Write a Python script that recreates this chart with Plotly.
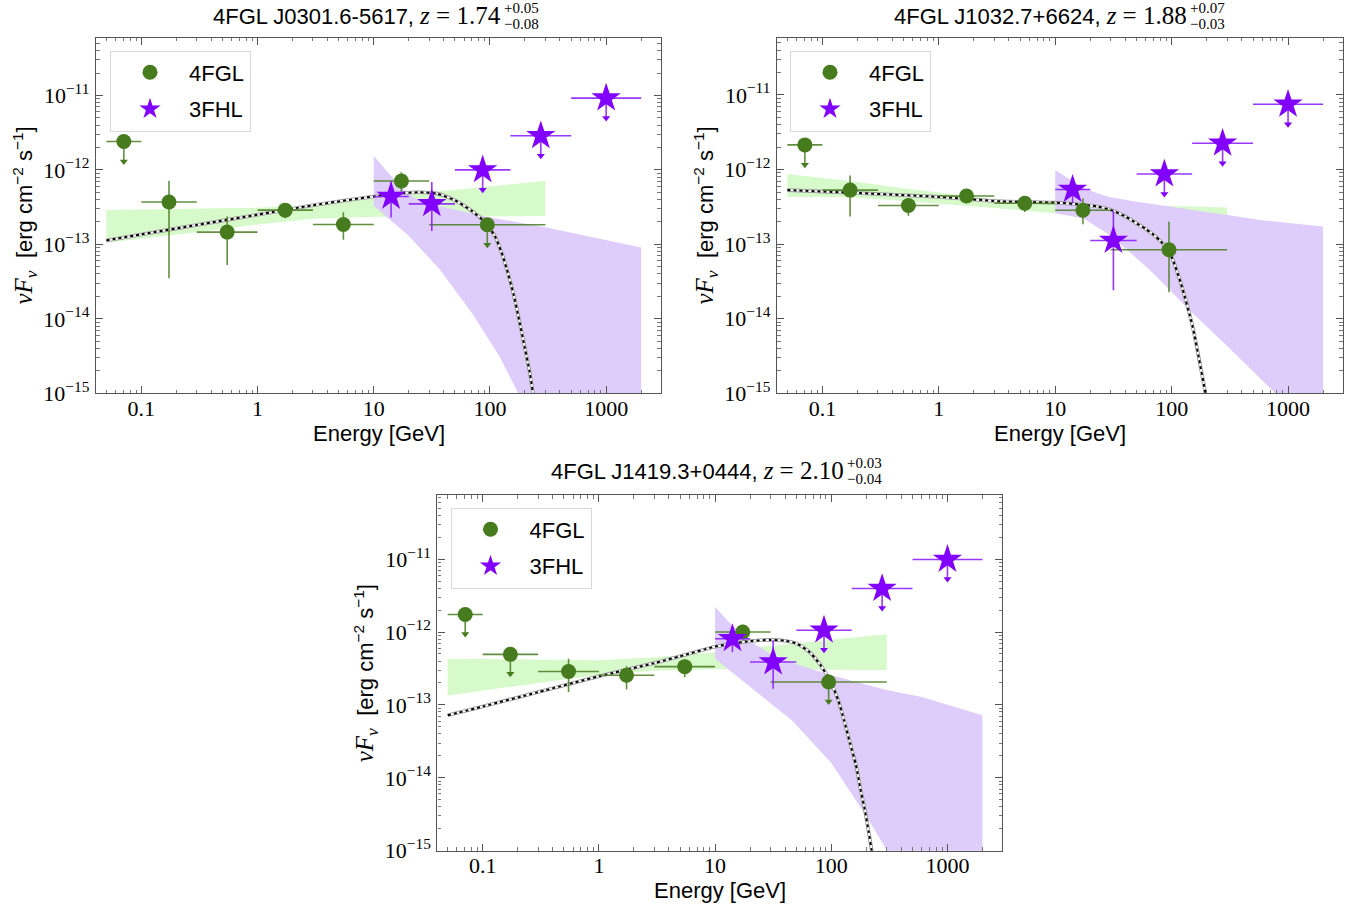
import plotly.graph_objects as go

W, H = 1358, 910

# ---------------- shared energy bins (GeV) ----------------
FGL_E = [0.0707, 0.173, 0.548, 1.73, 5.48, 17.3, 94.9]
FGL_ELO = [0.05, 0.1, 0.3, 1.0, 3.0, 10.0, 30.0]
FGL_EHI = [0.1, 0.3, 1.0, 3.0, 10.0, 30.0, 300.0]
FHL_E = [14.1, 31.6, 86.6, 274.0, 1000.0]
FHL_ELO = [10.0, 20.0, 50.0, 150.0, 500.0]
FHL_EHI = [20.0, 50.0, 150.0, 500.0, 2000.0]
UL_FRAC = 0.46  # length of upper-limit arrows (fraction of value)

X_TICKS = [0.1, 1, 10, 100, 1000]
X_TICKTEXT = ["0.1", "1", "10", "100", "1000"]
Y_TICKS = [1e-15, 1e-14, 1e-13, 1e-12, 1e-11]
Y_TICKTEXT = ["10<sup>−15</sup>", "10<sup>−14</sup>", "10<sup>−13</sup>", "10<sup>−12</sup>", "10<sup>−11</sup>"]

# ---------------- panel 1: 4FGL J0301.6-5617 ----------------
P1_FGL_F = [2.4e-12, 3.7e-13, 1.46e-13, 2.88e-13, 1.85e-13, 7.1e-13, 1.83e-13]
P1_FGL_HI = [2.4e-12, 7.1e-13, 2.37e-13, 3.57e-13, 2.7e-13, 9.3e-13, 1.83e-13]
P1_FGL_LO = [2.4e-12, 3.5e-14, 5.3e-14, 2.25e-13, 1.15e-13, 5.1e-13, 1.83e-13]
P1_FGL_UL = [1, 0, 0, 0, 0, 0, 1]
P1_FHL_F = [4.4e-13, 3.5e-13, 1.0e-12, 2.87e-12, 9.2e-12]
P1_FHL_HI = [7.0e-13, 6.9e-13, 1.0e-12, 2.87e-12, 9.2e-12]
P1_FHL_LO = [2.3e-13, 1.51e-13, 1.0e-12, 2.87e-12, 9.2e-12]
P1_FHL_UL = [0, 0, 1, 1, 1]
P1_GB_E = [0.05, 0.3, 1, 3, 10, 30, 100, 300]
P1_GB_HI = [2.9e-13, 3.0e-13, 3.1e-13, 3.35e-13, 4.2e-13, 5.0e-13, 6.0e-13, 7.1e-13]
P1_GB_LO = [1.05e-13, 1.45e-13, 1.85e-13, 2.2e-13, 2.35e-13, 2.4e-13, 2.4e-13, 2.4e-13]
P1_PB_EHI = [10, 13, 17, 22, 30, 50, 100, 300, 2000]
P1_PB_HI = [1.55e-12, 9.5e-13, 6.0e-13, 4.3e-13, 3.5e-13, 2.9e-13, 2.3e-13, 1.7e-13, 9.1e-14]
P1_PB_ELO = [10, 20, 37, 70, 120, 175, 300, 2000]
P1_PB_LO = [3.3e-13, 1.3e-13, 4.6e-14, 1.2e-14, 3.2e-15, 1e-15, 2e-16, 1e-19]
P1_CV_E = [0.05, 0.1, 0.3, 1, 3, 10, 18, 25, 35, 50, 70, 90, 110, 125, 140, 160, 180, 200, 220, 240]
P1_CV_F = [1.13e-13, 1.36e-13, 1.82e-13, 2.5e-13, 3.35e-13, 4.4e-13, 4.9e-13, 5.0e-13, 4.8e-13, 3.9e-13,
           2.8e-13, 2.0e-13, 1.3e-13, 8e-14, 4.6e-14, 2.1e-14, 9e-15, 4e-15, 1.9e-15, 8e-16]

# ---------------- panel 2: 4FGL J1032.7+6624 ----------------
P2_FGL_F = [2.14e-12, 5.3e-13, 3.3e-13, 4.43e-13, 3.53e-13, 2.85e-13, 8.4e-14]
P2_FGL_HI = [2.14e-12, 8.3e-13, 3.9e-13, 5.06e-13, 4.3e-13, 4.1e-13, 2.0e-13]
P2_FGL_LO = [2.14e-12, 2.35e-13, 2.4e-13, 4.0e-13, 2.7e-13, 1.85e-13, 2.26e-14]
P2_FGL_UL = [1, 0, 0, 0, 0, 0, 0]
P2_FHL_F = [5.4e-13, 1.12e-13, 8.7e-13, 2.25e-12, 7.5e-12]
P2_FHL_HI = [7.8e-13, 2.8e-13, 8.7e-13, 2.25e-12, 7.5e-12]
P2_FHL_LO = [3.5e-13, 2.4e-14, 8.7e-13, 2.25e-12, 7.5e-12]
P2_FHL_UL = [0, 0, 1, 1, 1]
P2_GB_E = [0.05, 0.17, 0.5, 1, 3, 10, 30, 100, 300]
P2_GB_HI = [8.7e-13, 7.0e-13, 5.6e-13, 4.9e-13, 4.0e-13, 3.6e-13, 3.4e-13, 3.25e-13, 3.1e-13]
P2_GB_LO = [4.3e-13, 4.25e-13, 3.8e-13, 3.5e-13, 3.05e-13, 2.6e-13, 2.2e-13, 1.8e-13, 1.45e-13]
P2_PB_EHI = [10, 13, 17, 23, 30, 50, 91, 300, 580, 2000]
P2_PB_HI = [9.9e-13, 7.5e-13, 5.8e-13, 4.8e-13, 4.25e-13, 3.7e-13, 3.2e-13, 2.45e-13, 2.1e-13, 1.72e-13]
P2_PB_ELO = [10, 17.5, 30, 65, 150, 300, 780, 2000]
P2_PB_LO = [2.6e-13, 2.2e-13, 1.3e-13, 4.5e-14, 1.2e-14, 4.3e-15, 1e-15, 1e-16]
P2_CV_E = [0.05, 0.17, 1, 3.4, 10, 16, 23, 30, 40, 50, 60, 70, 80, 91, 101, 120, 151, 175, 195, 215]
P2_CV_F = [5.3e-13, 4.9e-13, 4.3e-13, 3.75e-13, 3.6e-13, 3.42e-13, 3.2e-13, 2.88e-13, 2.35e-13, 1.9e-13,
           1.6e-13, 1.33e-13, 1.1e-13, 8.8e-14, 6.5e-14, 3.0e-14, 8e-15, 2.5e-15, 1e-15, 3e-16]

# ---------------- panel 3: 4FGL J1419.3+0444 ----------------
P3_FGL_F = [1.74e-12, 4.94e-13, 2.88e-13, 2.55e-13, 3.35e-13, 1.0e-12, 2.06e-13]
P3_FGL_HI = [1.74e-12, 4.94e-13, 4.3e-13, 3.4e-13, 4.2e-13, 1.26e-12, 2.06e-13]
P3_FGL_LO = [1.74e-12, 4.94e-13, 1.5e-13, 1.63e-13, 2.4e-13, 7.95e-13, 2.06e-13]
P3_FGL_UL = [1, 1, 0, 0, 0, 0, 1]
P3_FHL_F = [8.1e-13, 3.88e-13, 1.06e-12, 3.95e-12, 9.9e-12]
P3_FHL_HI = [1.17e-12, 7.7e-13, 1.06e-12, 3.95e-12, 9.9e-12]
P3_FHL_LO = [5.3e-13, 1.67e-13, 1.06e-12, 3.95e-12, 9.9e-12]
P3_FHL_UL = [0, 0, 1, 1, 1]
P3_GB_E = [0.05, 0.3, 1, 3, 10, 30, 100, 300]
P3_GB_HI = [4.3e-13, 4.2e-13, 4.1e-13, 4.5e-13, 5.3e-13, 6.5e-13, 7.9e-13, 9.3e-13]
P3_GB_LO = [1.35e-13, 2.0e-13, 2.6e-13, 2.95e-13, 3.1e-13, 3.1e-13, 3.05e-13, 2.98e-13]
P3_PB_EHI = [10, 13, 17, 22, 30, 50, 100, 300, 600, 2000]
P3_PB_HI = [2.2e-12, 1.4e-12, 9.5e-13, 6.8e-13, 5.0e-13, 3.6e-13, 2.55e-13, 1.6e-13, 1.28e-13, 7.2e-14]
P3_PB_ELO = [10, 20, 46, 100, 200, 303, 2000]
P3_PB_LO = [4.3e-13, 1.75e-13, 6.1e-14, 1.6e-14, 3e-15, 1e-15, 1e-17]
P3_CV_E = [0.05, 0.1, 0.3, 1, 3, 5, 10, 20, 30, 40, 51, 65, 81, 99, 115, 129, 145, 163, 180, 194, 210, 225, 240]
P3_CV_F = [7.2e-14, 9.5e-14, 1.5e-13, 2.47e-13, 3.75e-13, 4.65e-13, 6.3e-13, 7.5e-13, 7.8e-13, 7.6e-13, 6.9e-13,
           5.3e-13, 3.5e-13, 2.06e-13, 1.15e-13, 6.1e-14, 3.0e-14, 1.5e-14, 6.5e-15, 3.7e-15, 1.8e-15, 9e-16, 4e-16]

# ---------------- titles ----------------
TITLES = [("4FGL J0301.6-5617, ", "1.74", "+0.05", "−0.08"),
          ("4FGL J1032.7+6624, ", "1.88", "+0.07", "−0.03"),
          ("4FGL J1419.3+0444, ", "2.10", "+0.03", "−0.04")]

# ---------------- styles ----------------
GREEN = "#467b1e"
GREEN_ERR = "rgba(70,123,30,0.85)"
PURPLE = "#8200ff"
PURPLE_ERR = "rgba(135,20,255,0.85)"
GBAND = "rgb(214,250,202)"
PBAND = "rgb(222,205,250)"
SERIF = "Liberation Serif"
SANS = "Liberation Sans"

# panel frames in pixels: (left, right, top, bottom), y-range top (log10)
FRAMES = [(96, 661, 37.7, 393.3, -10.225),
          (777, 1343, 37.7, 393.3, -10.232),
          (437.4, 1002.3, 495, 850.7, -10.12)]
TITLE_POS = [(503, 15.5), (1189, 15.5), (846, 470.5)]
LEGEND_POS = [(110, 50.5), (790, 50.5), (450.5, 507.5)]

PANELS = [
    (P1_FGL_F, P1_FGL_HI, P1_FGL_LO, P1_FGL_UL, P1_FHL_F, P1_FHL_HI, P1_FHL_LO, P1_FHL_UL,
     P1_GB_E, P1_GB_HI, P1_GB_LO, P1_PB_EHI, P1_PB_HI, P1_PB_ELO, P1_PB_LO, P1_CV_E, P1_CV_F),
    (P2_FGL_F, P2_FGL_HI, P2_FGL_LO, P2_FGL_UL, P2_FHL_F, P2_FHL_HI, P2_FHL_LO, P2_FHL_UL,
     P2_GB_E, P2_GB_HI, P2_GB_LO, P2_PB_EHI, P2_PB_HI, P2_PB_ELO, P2_PB_LO, P2_CV_E, P2_CV_F),
    (P3_FGL_F, P3_FGL_HI, P3_FGL_LO, P3_FGL_UL, P3_FHL_F, P3_FHL_HI, P3_FHL_LO, P3_FHL_UL,
     P3_GB_E, P3_GB_HI, P3_GB_LO, P3_PB_EHI, P3_PB_HI, P3_PB_ELO, P3_PB_LO, P3_CV_E, P3_CV_F),
]

fig = go.Figure()
annotations = []


def errs(F, HI, LO, UL):
    plus = [0 if u else hi - f for f, hi, u in zip(F, HI, UL)]
    minus = [f * UL_FRAC if u else f - lo for f, lo, u in zip(F, LO, UL)]
    return plus, minus


for i, p in enumerate(PANELS):
    (fF, fHI, fLO, fUL, hF, hHI, hLO, hUL, gE, gHI, gLO, pEH, pHI, pEL, pLO, cE, cF) = p
    sfx = "" if i == 0 else str(i + 1)
    xa, ya = "x" + sfx, "y" + sfx
    leg = "legend" + sfx

    # butterflies
    fig.add_trace(go.Scatter(x=gE + gE[::-1], y=gHI + gLO[::-1], fill="toself", fillcolor=GBAND,
                             line=dict(width=0), mode="lines", showlegend=False, hoverinfo="skip",
                             xaxis=xa, yaxis=ya))
    fig.add_trace(go.Scatter(x=pEH + pEL[::-1], y=pHI + pLO[::-1], fill="toself", fillcolor=PBAND,
                             line=dict(width=0), mode="lines", showlegend=False, hoverinfo="skip",
                             xaxis=xa, yaxis=ya))
    # model curve: thin grey band, white core, black dotted line
    for col, wd, dash in [("rgb(150,150,150)", 3.6, "solid"), ("white", 2.0, "solid"), ("black", 2.0, "dot")]:
        fig.add_trace(go.Scatter(x=cE, y=cF, mode="lines",
                                 line=dict(color=col, width=wd, dash=dash, shape="spline", smoothing=0.6),
                                 showlegend=False, hoverinfo="skip", xaxis=xa, yaxis=ya))

    # 4FGL points
    gp, gm = errs(fF, fHI, fLO, fUL)
    fig.add_trace(go.Scatter(
        x=FGL_E, y=fF, mode="markers", name="4FGL", legend=leg, legendgroup="a" + sfx,
        marker=dict(symbol="circle", size=15, color=GREEN),
        error_x=dict(type="data", symmetric=False, array=[h - e for h, e in zip(FGL_EHI, FGL_E)],
                     arrayminus=[e - l for e, l in zip(FGL_E, FGL_ELO)], color=GREEN_ERR, thickness=1.6, width=0),
        error_y=dict(type="data", symmetric=False, array=gp, arrayminus=gm, color=GREEN_ERR,
                     thickness=1.6, width=0),
        xaxis=xa, yaxis=ya))
    ulx = [e for e, u in zip(FGL_E, fUL) if u]
    uly = [f * (1 - UL_FRAC) for f, u in zip(fF, fUL) if u]
    fig.add_trace(go.Scatter(x=ulx, y=uly, mode="markers", showlegend=False, hoverinfo="skip",
                             marker=dict(symbol="triangle-down", size=7, color=GREEN), xaxis=xa, yaxis=ya))

    # 3FHL points
    pp, pm = errs(hF, hHI, hLO, hUL)
    fig.add_trace(go.Scatter(
        x=FHL_E, y=hF, mode="markers", name="3FHL", legend=leg, legendgroup="b" + sfx,
        marker=dict(symbol="star", size=22, color=PURPLE),
        error_x=dict(type="data", symmetric=False, array=[h - e for h, e in zip(FHL_EHI, FHL_E)],
                     arrayminus=[e - l for e, l in zip(FHL_E, FHL_ELO)], color=PURPLE_ERR, thickness=1.6, width=0),
        error_y=dict(type="data", symmetric=False, array=pp, arrayminus=pm, color=PURPLE_ERR,
                     thickness=1.6, width=0),
        xaxis=xa, yaxis=ya))
    ulx = [e for e, u in zip(FHL_E, hUL) if u]
    uly = [f * (1 - UL_FRAC) for f, u in zip(hF, hUL) if u]
    fig.add_trace(go.Scatter(x=ulx, y=uly, mode="markers", showlegend=False, hoverinfo="skip",
                             marker=dict(symbol="triangle-down", size=7, color=PURPLE), xaxis=xa, yaxis=ya))

    L, R, T, B, ytop = FRAMES[i]
    common = dict(type="log", showline=True, linecolor="#555", linewidth=1.3, mirror="allticks",
                  ticks="inside", ticklen=7, tickwidth=1, tickcolor="#555", showgrid=False, zeroline=False,
                  automargin=False,
                  minor=dict(ticks="inside", ticklen=3.5, tickwidth=0.8, tickcolor="#777", dtick="D1", showgrid=False),
                  tickfont=dict(family=SERIF, size=22, color="black"))
    fig.update_layout(**{
        "xaxis" + sfx: dict(common, domain=[L / W, R / W], range=[-1.39, 3.472], anchor=ya,
                            tickvals=X_TICKS, ticktext=X_TICKTEXT, ticklabelstandoff=-5),
        "yaxis" + sfx: dict(common, domain=[1 - B / H, 1 - T / H], range=[-15, ytop], anchor=xa,
                            tickvals=Y_TICKS, ticktext=Y_TICKTEXT, ticklabelstandoff=1),
        leg: dict(x=LEGEND_POS[i][0] / W, y=1 - LEGEND_POS[i][1] / H, xanchor="left", yanchor="top",
                  bgcolor="white", bordercolor="#d8d8d8", borderwidth=1,
                  font=dict(family=SANS, size=22, color="black"), itemwidth=68,
                  tracegroupgap=5, traceorder="grouped"),
    })

    # axis titles
    annotations.append(dict(text="Energy [GeV]", x=(L + R) / 2 / W, y=1 - (B + 40) / H, xref="paper",
                            yref="paper", showarrow=False, xanchor="center", yanchor="middle",
                            font=dict(family=SANS, size=22, color="black")))
    annotations.append(dict(
        text='<span style="font-family:Liberation Serif;font-size:25px"><i>νF</i><sub><i>ν</i></sub></span>  [erg cm<sup>−2</sup> s<sup>−1</sup>]',
        x=(L - 72) / W, y=1 - (T + B) / 2 / H, xref="paper", yref="paper", showarrow=False, textangle=-90,
        xanchor="center", yanchor="middle", font=dict(family=SANS, size=22, color="black")))

    # panel title
    src, zval, sup, sub = TITLES[i]
    tx, ty = TITLE_POS[i]
    annotations.append(dict(
        text=src + '<span style="font-family:Liberation Serif;font-size:25px"><i>z</i> = ' + zval + '</span>',
        x=tx / W, y=1 - ty / H, xref="paper", yref="paper", showarrow=False, xanchor="right", yanchor="middle",
        font=dict(family=SANS, size=22, color="black")))
    annotations.append(dict(text=sup, x=(tx - 1) / W, y=1 - (ty - 7.5) / H, xref="paper", yref="paper",
                            showarrow=False, xanchor="left", yanchor="middle",
                            font=dict(family=SERIF, size=15, color="black")))
    annotations.append(dict(text=sub, x=(tx - 1) / W, y=1 - (ty + 8.5) / H, xref="paper", yref="paper",
                            showarrow=False, xanchor="left", yanchor="middle",
                            font=dict(family=SERIF, size=15, color="black")))

fig.update_layout(width=W, height=H, margin=dict(l=0, r=0, t=0, b=0), paper_bgcolor="white",
                  plot_bgcolor="white", annotations=annotations)
fig.write_html("out.html", config={"displayModeBar": False},
               post_script="document.body.style.margin='0px';document.body.style.overflow='hidden';")
